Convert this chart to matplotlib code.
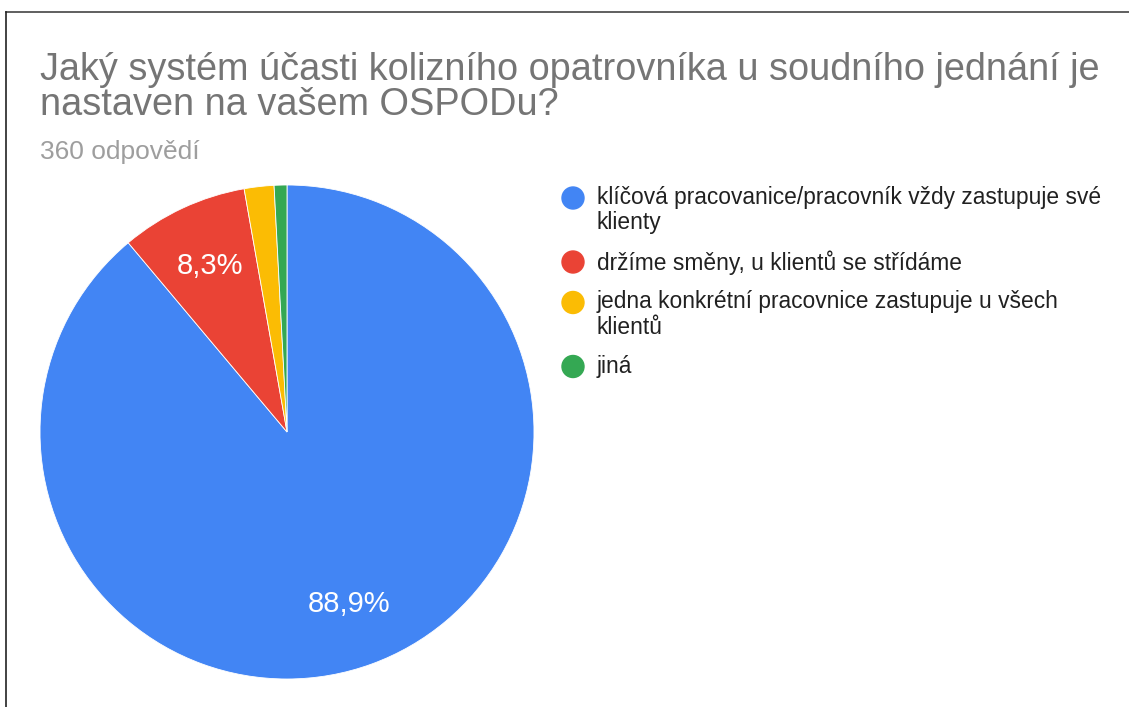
import matplotlib.pyplot as plt
from matplotlib.patches import Ellipse

plt.rcParams['font.family'] = ['Liberation Sans', 'DejaVu Sans']

title = "Jaký systém účasti kolizního opatrovníka u soudního jednání je\nnastaven na vašem OSPODu?"
subtitle = "360 odpovědí"
labels = [
    "klíčová pracovanice/pracovník vždy zastupuje své\nklienty",
    "držíme směny, u klientů se střídáme",
    "jedna konkrétní pracovnice zastupuje u všech\nklientů",
    "jiná",
]
counts = [320, 30, 7, 3]
colors = ["#4285F4", "#EA4335", "#FBBC04", "#34A853"]

W, H = 1129, 707
fig = plt.figure(figsize=(W / 100, H / 100), dpi=100)

# pie axes: centre (287, 432) px, radius 247 px
cx, cy, r = 287, 432, 247
ax = fig.add_axes([(cx - r) / W, (H - cy - r) / H, 2 * r / W, 2 * r / H])


def pct(p):
    if p < 5:
        return ""
    return f"{p:.1f}%".replace(".", ",")


wedges, texts, autotexts = ax.pie(
    counts, colors=colors, startangle=90, counterclock=False,
    autopct=pct, pctdistance=0.74,
    wedgeprops=dict(linewidth=0.6, edgecolor="white"),
    textprops=dict(color="white", fontsize=21),
)
ax.set_xlim(-1, 1)
ax.set_ylim(-1, 1)
ax.set_aspect("equal")

# title and subtitle
fig.text(40 / W, 1 - 52 / H, title, fontsize=27.3, color="#757575",
         va="top", ha="left", linespacing=0.95)
fig.text(40 / W, 1 - 140 / H, subtitle, fontsize=19, color="#9e9e9e",
         va="top", ha="left")

# legend drawn by hand so the dot lines up with the first text line
y = 198
line_h = 23.5
for lab, col in zip(labels, colors):
    n = lab.count("\n") + 1
    fig.add_artist(Ellipse((573 / W, 1 - y / H), 22 / W, 22 / H, color=col,
                           transform=fig.transFigure))
    fig.text(597 / W, 1 - (y - 12) / H, lab, fontsize=16.4, color="#212121",
             va="top", ha="left", linespacing=1.12)
    y += n * line_h + 17

# frame lines at top and left
fig.add_artist(plt.Line2D([6 / W, 1], [1 - 12 / H, 1 - 12 / H],
                          color="#444444", linewidth=1.2))
fig.add_artist(plt.Line2D([6 / W, 6 / W], [0, 1 - 12 / H],
                          color="#222222", linewidth=1.2))

fig.savefig("out.png", dpi=100, facecolor="white")
